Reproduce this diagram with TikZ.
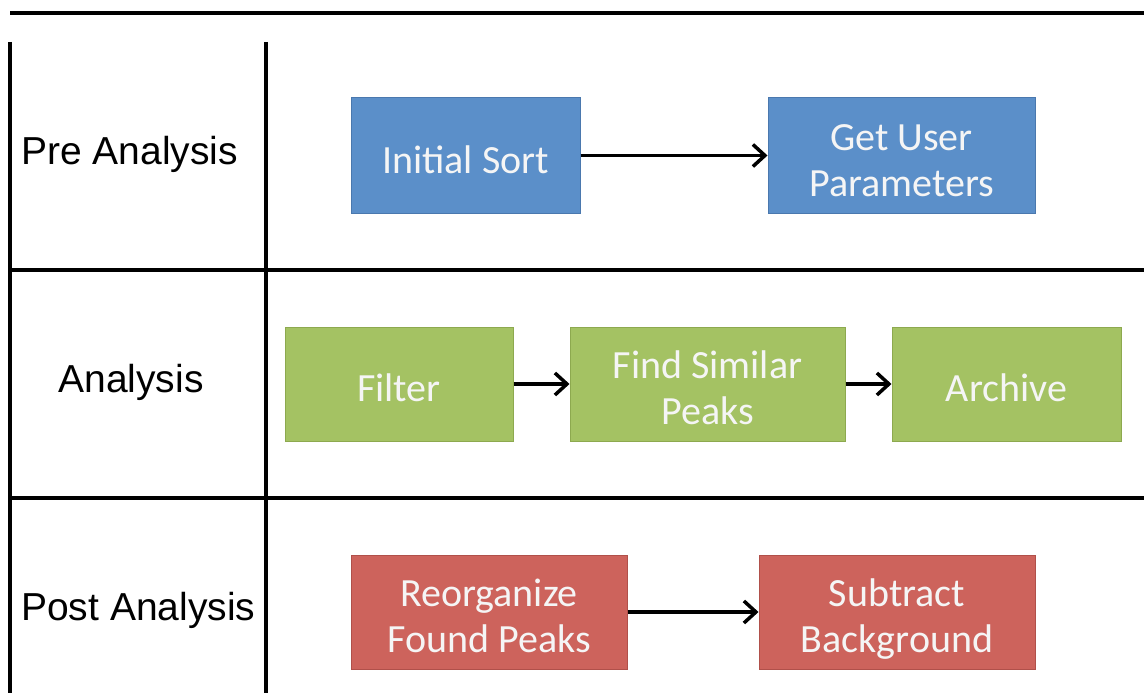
\documentclass[tikz,border=0pt]{standalone}
\usepackage{fontspec}
\setmainfont{Liberation Sans}
\newfontfamily\boxfont{Carlito}
\usetikzlibrary{arrows.meta}
\definecolor{bluefill}{HTML}{5B8FC9}
\definecolor{blueline}{HTML}{4A78AE}
\definecolor{greenfill}{HTML}{A4C263}
\definecolor{greenline}{HTML}{8DA94F}
\definecolor{redfill}{HTML}{CD635C}
\definecolor{redline}{HTML}{B0504A}
\newcommand{\boxtext}[1]{\raisebox{-15pt}[0pt][0pt]{\begin{tabular}{@{}c@{}}#1\end{tabular}}}
\tikzset{
  rule/.style={line width=3.5pt, black},
  lane/.style={font=\fontsize{39}{46}\selectfont, inner sep=0pt},
  proc/.style={draw, line width=1pt, inner sep=0pt, align=center, text=white!96!black,
    font=\boxfont\fontsize{40}{46}\selectfont, minimum height=114pt},
  bluebox/.style={proc, fill=bluefill, draw=blueline},
  greenbox/.style={proc, fill=greenfill, draw=greenline},
  redbox/.style={proc, fill=redfill, draw=redline},
  flow/.style={line width=3.5pt, -{Straight Barb[length=12pt,width=22pt,line width=3.5pt]}}
}
\begin{document}
\begin{tikzpicture}[x=1pt,y=-1pt]
\useasboundingbox (0,0) rectangle (1144,693);
% grid lines
\coordinate (tl) at (10,13); \coordinate (tr) at (1144,13);
\coordinate (v1t) at (10,42); \coordinate (v1b) at (10,693);
\coordinate (v2t) at (266,42); \coordinate (v2b) at (266,693);
\coordinate (h1l) at (10,270); \coordinate (h1r) at (1144,270);
\coordinate (h2l) at (10,498); \coordinate (h2r) at (1144,498);
\draw[rule] (tl) -- (tr);
\draw[rule] (v1t) -- (v1b);
\draw[rule] (v2t) -- (v2b);
\draw[rule] (h1l) -- (h1r);
\draw[rule] (h2l) -- (h2r);
% lane labels
\node[lane, anchor=west] (pre) at (21,154) {Pre Analysis};
\node[lane] (ana) at (131,382) {Analysis};
\node[lane, anchor=west] (post) at (21,610) {Post Analysis};
% boxes
\node[bluebox, minimum width=229pt, minimum height=115pt] (init) at (465.5,155.5) {\boxtext{Initial Sort}};
\node[bluebox, minimum width=267pt, minimum height=115pt] (user) at (901.5,155.5) {\boxtext{Get User\\Parameters}};
\node[greenbox, minimum width=228pt] (filter) at (399,384) {\boxtext{Filter}};
\node[greenbox, minimum width=275pt] (find) at (707.5,384) {\boxtext{Find Similar\\Peaks}};
\node[greenbox, minimum width=229pt] (arch) at (1006.5,384) {\boxtext{Archive}};
\node[redbox, minimum width=276pt] (reorg) at (489,612) {\boxtext{Reorganize\\Found Peaks}};
\node[redbox, minimum width=276pt] (sub) at (897,612) {\boxtext{Subtract\\Background}};
% arrows
\draw[flow] (init) -- (user);
\draw[flow] (filter) -- (find);
\draw[flow] (find) -- (arch);
\draw[flow] (reorg) -- (sub);
\end{tikzpicture}
\end{document}
